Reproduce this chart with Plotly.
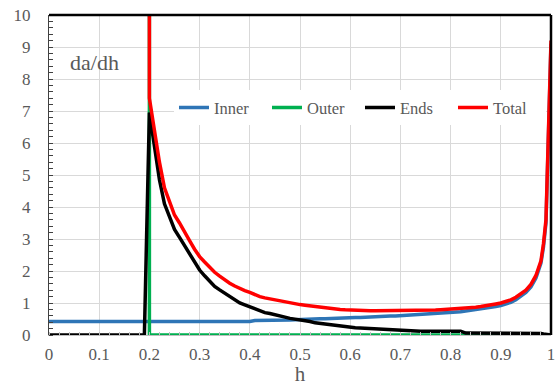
import plotly.graph_objects as go

# shared h grid for Inner and Ends
h = [round(0.01 * i, 2) for i in range(99)] + [0.985, 0.99, 0.995, 1.0]

inner = ([0.42] * 41 +
         [0.45, 0.45, 0.45, 0.45, 0.46, 0.46, 0.47, 0.47, 0.48, 0.49,
          0.49, 0.50, 0.50, 0.51, 0.51, 0.52, 0.52, 0.53, 0.53, 0.54,
          0.55, 0.55, 0.56, 0.56, 0.57, 0.57, 0.58, 0.59, 0.59, 0.60,
          0.61, 0.62, 0.62, 0.63, 0.64, 0.65, 0.66, 0.67, 0.68, 0.69,
          0.71, 0.73, 0.75, 0.77, 0.79, 0.81, 0.83, 0.86, 0.89, 0.92,
          0.97, 1.02, 1.10, 1.20, 1.33, 1.50, 1.78, 2.25,
          2.75, 3.50, 6.10, 9.10])

ends = ([0.0] * 20 +
        [6.95, 5.80, 4.85, 4.10, 3.70, 3.30, 3.05, 2.80, 2.52, 2.25,
         2.03, 1.85, 1.68, 1.52, 1.41, 1.30, 1.20, 1.10, 1.00, 0.94,
         0.88, 0.80, 0.74, 0.70, 0.67, 0.64, 0.61, 0.56, 0.52, 0.50,
         0.47, 0.44, 0.42, 0.38, 0.36, 0.33, 0.31, 0.29, 0.27, 0.26,
         0.24, 0.23, 0.22, 0.21, 0.20, 0.19, 0.18, 0.18, 0.17, 0.16,
         0.16, 0.15, 0.14, 0.13] +
        [0.12] * 9 + [0.06] * 15 +
        [0.05, 0.03, 0.02, 0.01, 0.0])

# Outer: spike at h = 0.2 (off scale), zero afterwards
h_outer = [0.2, 0.2, 1.0]
outer = [10.0, 0.0, 0.0]

# Total starts at h = 0.2 (first point off scale)
h_total = [0.2] + h[20:]
total = ([10.0] +
         [7.40, 6.40, 5.40, 4.60, 4.15, 3.75, 3.50, 3.20, 2.95, 2.68,
          2.45, 2.28, 2.10, 1.96, 1.84, 1.72, 1.62, 1.53, 1.45, 1.39,
          1.33, 1.26, 1.20, 1.16, 1.13, 1.10, 1.07, 1.03, 0.99, 0.97,
          0.95, 0.93, 0.91, 0.88, 0.86, 0.84, 0.83, 0.81, 0.80, 0.79,
          0.78] +
         [0.77, 0.77, 0.77, 0.76, 0.76, 0.76, 0.76, 0.76, 0.76, 0.76,
          0.76, 0.76, 0.76, 0.76] +
         [0.77, 0.77, 0.78, 0.79, 0.80, 0.81, 0.82, 0.84, 0.83, 0.85,
          0.87, 0.89, 0.91, 0.94, 0.97, 1.00, 1.05, 1.10, 1.18, 1.28,
          1.40, 1.58, 1.86, 2.32] +
         [2.85, 3.60, 6.20, 9.20])

x_ticks = [0, 0.1, 0.2, 0.3, 0.4, 0.5, 0.6, 0.7, 0.8, 0.9, 1]
x_labels = ["0", "0.1", "0.2", "0.3", "0.4", "0.5", "0.6", "0.7", "0.8", "0.9", "1"]
y_ticks = list(range(0, 11))

FONT = "Liberation Serif"
GREY = "#595959"

fig = go.Figure()
fig.add_trace(go.Scatter(x=h, y=inner, name="Inner", mode="lines",
                         line=dict(color="#2E75B6", width=3.5), cliponaxis=False))
fig.add_trace(go.Scatter(x=h_outer, y=outer, name="Outer", mode="lines",
                         line=dict(color="#00B050", width=3.5), cliponaxis=False))
fig.add_trace(go.Scatter(x=h, y=ends, name="Ends", mode="lines",
                         line=dict(color="#000000", width=3.5), cliponaxis=False))
fig.add_trace(go.Scatter(x=h_total, y=total, name="Total", mode="lines",
                         line=dict(color="#FF0000", width=3.5), cliponaxis=False))

fig.update_layout(
    width=556, height=386,
    margin=dict(l=49, r=5, t=15, b=51, autoexpand=False),
    paper_bgcolor="white", plot_bgcolor="white",
    font=dict(family=FONT, color=GREY, size=17),
    showlegend=True,
    legend=dict(orientation="h", x=0.249, xanchor="left", y=0.71, yanchor="middle",
                bgcolor="white", font=dict(family=FONT, size=16.5, color=GREY),
                itemwidth=30, entrywidth=48, entrywidthmode="pixels"),
    xaxis=dict(range=[0, 1], tickvals=x_ticks, ticktext=x_labels,
               showgrid=True, gridcolor="#D9D9D9", gridwidth=1,
               showline=True, linecolor="#BFBFBF", linewidth=1,
               ticks="", ticklabelstandoff=4, automargin=False,
               ticklabeloverflow="allow",
               minor=dict(dtick=0.02, ticks="inside", ticklen=3, tickcolor="#BFBFBF", showgrid=False),
               title=dict(text="h", font=dict(size=21, color=GREY, family=FONT), standoff=6),
               zeroline=False, tickfont=dict(size=17)),
    yaxis=dict(range=[0, 10], tickvals=y_ticks,
               showgrid=True, gridcolor="#D9D9D9", gridwidth=1,
               showline=True, linecolor="#404040", linewidth=1,
               ticks="", ticklabelstandoff=14, automargin=False,
               ticklabeloverflow="allow",
               minor=dict(dtick=0.2, ticks="inside", ticklen=4, tickcolor="#404040", showgrid=False),
               zeroline=False, tickfont=dict(size=17)),
    annotations=[dict(text="da/dh", xref="paper", yref="paper", x=0.038, y=0.853,
                      xanchor="left", yanchor="middle", showarrow=False,
                      font=dict(family=FONT, size=22, color=GREY))],
    shapes=[
        dict(type="line", xref="paper", yref="paper", x0=0, x1=1, y0=1, y1=1,
             line=dict(color="black", width=2.5), layer="above"),
        dict(type="line", xref="paper", yref="paper", x0=1, x1=1, y0=0, y1=1,
             line=dict(color="black", width=2.5), layer="above"),
    ],
)

# remove the browser's default 8px page margin so the figure fills the window
fig.write_html("out.html", config={"displayModeBar": False},
               post_script="document.body.style.margin='0px';")
